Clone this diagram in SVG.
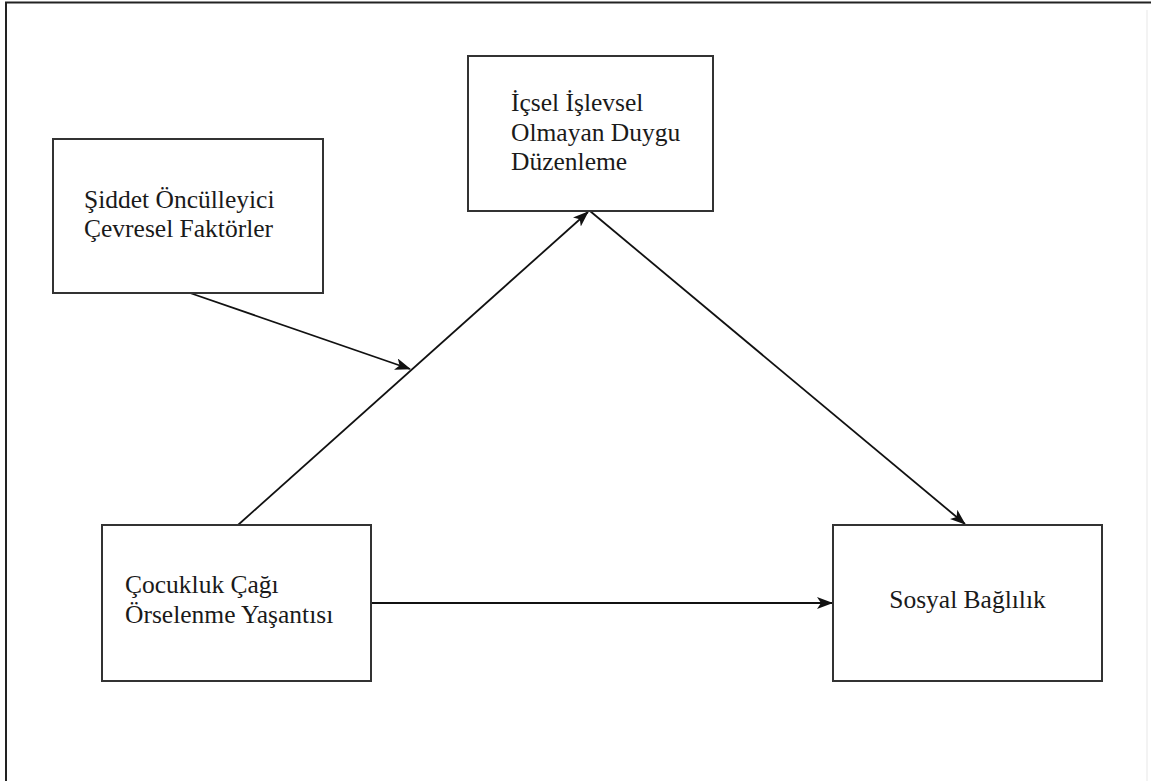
<svg xmlns="http://www.w3.org/2000/svg" width="1151" height="781" viewBox="0 0 1151 781">
<defs>
<style>
.box{fill:#fff;stroke:#333;stroke-width:2}
.lbl{font-family:"Liberation Serif","Times New Roman",serif;font-size:25.5px;fill:#1a1a1a}
.edge{stroke:#111;stroke-width:1.8;fill:none}
</style>
<marker id="arr" viewBox="0 0 16 12" refX="15" refY="6" markerWidth="16" markerHeight="12" markerUnits="userSpaceOnUse" orient="auto">
<path d="M0,0 L16,6 L0,12 L4,6 Z" fill="#111"/>
</marker>
</defs>
<rect width="1151" height="781" fill="#fff"/>
<path d="M6,781 V2.5 H1151" fill="none" stroke="#222" stroke-width="2"/>
<line x1="1147" y1="10" x2="1147" y2="781" stroke="#f3f3f3" stroke-width="2"/>
<g id="connectors">
<line class="edge" x1="238" y1="525" x2="588" y2="212" marker-end="url(#arr)"/>
<line class="edge" x1="590" y1="211" x2="965" y2="524" marker-end="url(#arr)"/>
<line class="edge" x1="371" y1="603" x2="832" y2="603" marker-end="url(#arr)"/>
<line class="edge" x1="190" y1="293" x2="410" y2="369" marker-end="url(#arr)"/>
</g>
<g id="node-siddet">
<rect class="box" x="53" y="139" width="270" height="154"/>
<text class="lbl" x="84" y="208">Şiddet Öncülleyici</text>
<text class="lbl" x="84" y="237">Çevresel Faktörler</text>
</g>
<g id="node-icsel">
<rect class="box" x="468" y="56" width="245" height="155"/>
<text class="lbl" x="511" y="111">İçsel İşlevsel</text>
<text class="lbl" x="511" y="141">Olmayan Duygu</text>
<text class="lbl" x="511" y="170">Düzenleme</text>
</g>
<g id="node-cocukluk">
<rect class="box" x="102" y="525" width="269" height="156"/>
<text class="lbl" x="125" y="593">Çocukluk Çağı</text>
<text class="lbl" x="125" y="623">Örselenme Yaşantısı</text>
</g>
<g id="node-sosyal">
<rect class="box" x="833" y="525" width="269" height="156"/>
<text class="lbl" x="967.5" y="608" text-anchor="middle">Sosyal Bağlılık</text>
</g>
</svg>
